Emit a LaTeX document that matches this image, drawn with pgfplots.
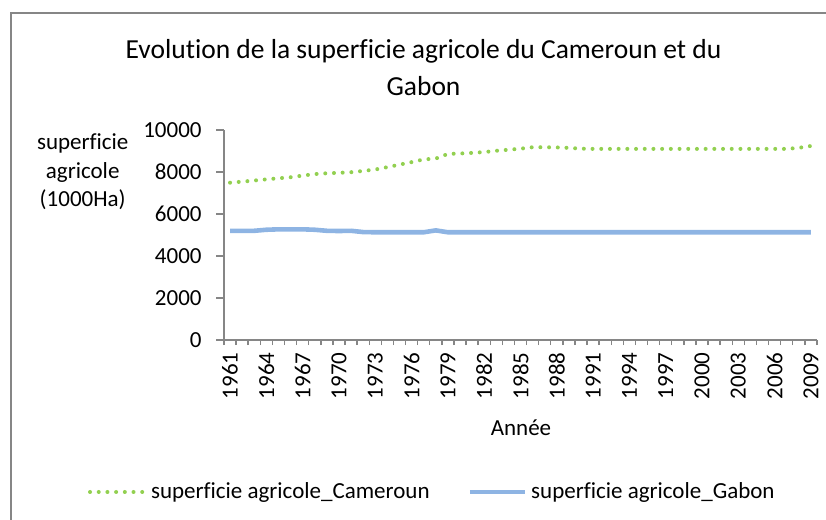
\documentclass[border=0pt]{standalone}
\usepackage{fontspec}
\setmainfont{Carlito}[Ligatures=NoCommon]
\usepackage{pgfplots}
\usepackage{pgfplotstable}
\pgfplotsset{compat=1.18}
\definecolor{camgreen}{RGB}{146,208,80}
\definecolor{gabblue}{RGB}{142,180,227}
\definecolor{axgray}{RGB}{134,134,134}

\pgfplotstableread{
year cam gab
1961 7490 5200
1962 7540 5200
1963 7595 5200
1964 7650 5250
1965 7700 5270
1966 7750 5270
1967 7830 5270
1968 7900 5250
1969 7940 5200
1970 7960 5190
1971 7990 5200
1972 8050 5140
1973 8120 5130
1974 8230 5130
1975 8350 5130
1976 8470 5130
1977 8600 5130
1978 8640 5220
1979 8860 5130
1980 8880 5130
1981 8910 5130
1982 8950 5130
1983 9010 5130
1984 9060 5130
1985 9110 5130
1986 9180 5130
1987 9180 5130
1988 9170 5130
1989 9150 5130
1990 9110 5130
1991 9100 5130
1992 9100 5130
1993 9100 5130
1994 9100 5130
1995 9100 5130
1996 9100 5130
1997 9100 5130
1998 9100 5130
1999 9100 5130
2000 9100 5130
2001 9100 5130
2002 9100 5130
2003 9100 5130
2004 9100 5130
2005 9100 5130
2006 9100 5130
2007 9100 5130
2008 9150 5130
2009 9240 5130
}\data

\begin{document}
\begin{tikzpicture}
\path[use as bounding box] (0pt,0pt) rectangle (413pt,260pt);
\begin{scope}[x=1pt,y=1pt]
\begin{scope}
\clip (0,0) rectangle (413,260);
\draw[axgray, line width=1.1pt] (5.5,-10) -- (5.5,253.5) -- (430,253.5);
\end{scope}
\node[anchor=base, inner sep=0pt, font=\fontsize{13.75}{16}\selectfont] at (211.75,230.5) {Evolution de la superficie agricole du Cameroun et du};
\node[anchor=base, inner sep=0pt, font=\fontsize{13.75}{16}\selectfont] at (211.75,212.25) {Gabon};
\node[anchor=base, inner sep=0pt, font=\fontsize{11.5}{14}\selectfont] at (41.35,185) {superficie};
\node[anchor=base, inner sep=0pt, font=\fontsize{11.5}{14}\selectfont] at (41.35,170.75) {agricole};
\node[anchor=base, inner sep=0pt, font=\fontsize{11.5}{14}\selectfont] at (41.35,156.5) {(1000Ha)};
\node[anchor=base, inner sep=0pt, font=\fontsize{11.5}{14}\selectfont] at (260.5,42) {Année};
\end{scope}
\begin{axis}[
  at={(112pt,90pt)}, anchor=south west,
  scale only axis, width=296.5pt, height=105pt,
  xmin=1960.5, xmax=2009.5, ymin=0, ymax=10000,
  axis x line*=bottom, axis y line*=left,
  axis line style={draw=axgray, line width=0.7pt, -},
  every tick/.style={draw=axgray, line width=0.7pt},
  tick align=outside,
  major tick length=4pt,
  minor tick length=2.5pt,
  xtick={1961,1964,...,2009},
  major x tick style={draw=none},
  minor xtick={1960.5,1961.5,...,2009.5},
  ytick={0,2000,...,10000},
  scaled y ticks=false,
  /pgf/number format/.cd, 1000 sep={}, assume math mode=true,
  /pgfplots/.cd,
  tick label style={font=\fontsize{11.5}{14}\selectfont, text=black},
  xticklabel style={rotate=90, anchor=east, inner sep=0pt},
  xticklabel shift=2pt,
  yticklabel style={inner sep=0pt},
  yticklabel shift=7pt,
  legend columns=2,
  legend style={at={(-0.2293,-0.7238)}, anchor=west, draw=none, fill=none,
    inner sep=0pt, outer sep=0pt,
    font=\fontsize{11.5}{14}\selectfont,
    /tikz/every even column/.append style={column sep=17pt}},
  legend image code/.code={\draw[#1] (0pt,0pt) -- (27.5pt,0pt);},
]
\addplot[camgreen, line width=2pt, line cap=round, dash pattern=on 0pt off 4.35pt] table[x=year,y=cam] {\data};
\addlegendentry{superficie agricole\_Cameroun}
\addplot[gabblue, line width=2.3pt] table[x=year,y=gab] {\data};
\addlegendentry{superficie agricole\_Gabon}
\end{axis}
\end{tikzpicture}
\end{document}
